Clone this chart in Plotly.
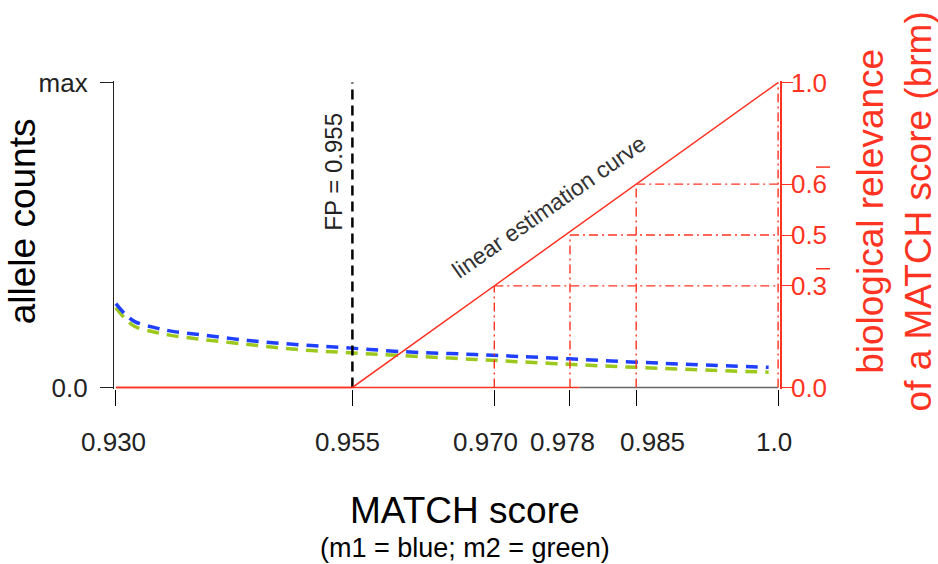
import plotly.graph_objects as go

# ---------------- data ----------------
FP = 0.955
match_x = [0.930, 0.931, 0.932, 0.934, 0.936, 0.939, 0.944, 0.949, 0.954, 0.960, 0.968, 0.976, 0.985, 0.999]
m1_blue = [0.275, 0.240, 0.216, 0.197, 0.184, 0.173, 0.154, 0.141, 0.131, 0.118, 0.108, 0.097, 0.083, 0.066]
m2_green = [0.262, 0.225, 0.200, 0.182, 0.170, 0.158, 0.141, 0.125, 0.115, 0.105, 0.092, 0.079, 0.066, 0.050]

brm_x = [0.930, 0.955, 1.0]          # linear estimation curve
brm_y = [0.0, 0.0, 1.0]

baseline_red_x = [0.930, 0.979]
baseline_gray_x = [0.979, 1.0]
baseline_y = [0.0, 0.0]

ref_scores = [0.970, 0.978, 0.985, 1.0]
ref_brm = [1/3, 0.5, 2/3, 1.0]

x_ticks = [0.930, 0.955, 0.970, 0.978, 0.985, 1.0]
x_ticklabels = ["0.930", "0.955", "0.970", "0.978", "0.985", "1.0"]
x_label_nudge = [-2, -5, -9, -7, 16, -4]      # px offsets of the labels as placed in the original
left_ticks = [0.0, 1.0]
left_ticklabels = ["0.0", "max"]
right_ticks = [0.0, 1/3, 0.5, 2/3, 1.0]
right_ticklabels = ["0.0", "0.3", "0.5", "0.6", "1.0"]
repeating_ticks = [1/3, 2/3]      # labels drawn with a repeating-decimal bar

RED = "#ff3322"
BLUE = "#2040ff"
GREEN = "#9dc81e"
FONT = "Liberation Sans, Arial, Helvetica, sans-serif"

fig = go.Figure()

# dash-dot guide lines (vertical and horizontal) for reference brm values
for sx, by in zip(ref_scores, ref_brm):
    fig.add_trace(go.Scatter(x=[sx, sx], y=[0, by], mode="lines", yaxis="y2",
                             line=dict(color=RED, width=1.4, dash="9px,4px,2px,4px"),
                             showlegend=False, hoverinfo="skip"))
    fig.add_trace(go.Scatter(x=[sx, 1.0], y=[by, by], mode="lines", yaxis="y2",
                             line=dict(color=RED, width=1.4, dash="9px,4px,2px,4px"),
                             showlegend=False, hoverinfo="skip"))

# allele count curves
fig.add_trace(go.Scatter(x=match_x, y=m2_green, mode="lines", line=dict(color=GREEN, width=3.5, dash="12px,8px"),
                         line_shape="spline", showlegend=False, name="m2"))
fig.add_trace(go.Scatter(x=match_x, y=m1_blue, mode="lines", line=dict(color=BLUE, width=3.5, dash="12px,8px"),
                         line_shape="spline", showlegend=False, name="m1"))

# baseline
fig.add_trace(go.Scatter(x=baseline_red_x, y=baseline_y, mode="lines", line=dict(color=RED, width=1.5),
                         showlegend=False, hoverinfo="skip"))
fig.add_trace(go.Scatter(x=baseline_gray_x, y=baseline_y, mode="lines", line=dict(color="#666666", width=1.5),
                         showlegend=False, hoverinfo="skip"))

# linear estimation curve
fig.add_trace(go.Scatter(x=brm_x, y=brm_y, mode="lines", yaxis="y2", line=dict(color=RED, width=1.5),
                         showlegend=False, name="brm"))

# FP threshold line
fig.add_trace(go.Scatter(x=[FP, FP], y=[0, 1], mode="lines", line=dict(color="black", width=2.5, dash="10px,6px"),
                         showlegend=False, hoverinfo="skip"))

fig.update_layout(
    width=938, height=564,
    margin=dict(l=114, r=158, t=81, b=175),
    paper_bgcolor="white", plot_bgcolor="white",
    font=dict(family=FONT, size=26, color="black"),
    xaxis=dict(range=[0.9298, 1.0002], showgrid=False, zeroline=False, showline=False,
               tickmode="array", tickvals=x_ticks, showticklabels=False,
               ticks="outside", ticklen=16, tickwidth=1.3, tickcolor="black"),
    yaxis=dict(range=[-0.005, 1.005], showgrid=False, zeroline=False, showline=True,
               linecolor="#222222", linewidth=1.3,
               tickmode="array", tickvals=left_ticks, ticktext=left_ticklabels,
               ticks="outside", ticklen=13, tickwidth=1.3, tickcolor="#222222",
               tickfont=dict(size=26, color="#222222"), ticklabelstandoff=7),
    yaxis2=dict(range=[-0.005, 1.005], overlaying="y", side="right", showgrid=False, zeroline=False,
                showline=True, linecolor=RED, linewidth=1.5,
                tickmode="array", tickvals=right_ticks, ticktext=right_ticklabels,
                ticks="outside", ticklen=11, tickwidth=1.3, tickcolor=RED,
                tickfont=dict(size=26, color=RED), ticklabelstandoff=-7),
    showlegend=False,
)

# bars over the repeating digits of 0.3 and 0.6 labels
for tv in repeating_ticks:
    fig.add_shape(type="line", xref="paper", yref="y2", x0=1.0541, x1=1.0751,
                  y0=tv + 0.056, y1=tv + 0.056, line=dict(color=RED, width=1.5))

annotations = [
    dict(text="allele counts", xref="paper", yref="paper", x=-0.138, y=0.545, textangle=-90,
         showarrow=False, xanchor="center", yanchor="middle", font=dict(size=37, color="black")),
    dict(text="biological relevance<br>of a MATCH score (brm)", xref="paper", yref="paper", x=1.172, y=0.575,
         textangle=-90, showarrow=False, xanchor="center", yanchor="middle", font=dict(size=37, color=RED)),
    dict(text="MATCH score", xref="paper", yref="paper", x=0.527, y=-0.393, showarrow=False,
         xanchor="center", yanchor="middle", font=dict(size=37, color="black")),
    dict(text="(m1 = blue; m2 = green)", xref="paper", yref="paper", x=0.527, y=-0.516, showarrow=False,
         xanchor="center", yanchor="middle", font=dict(size=27, color="black")),
    dict(text="FP = 0.955", xref="x", yref="y", x=FP, y=0.709, xshift=-19, textangle=-90, showarrow=False,
         xanchor="center", yanchor="middle", font=dict(size=24, color="#222222")),
    dict(text="linear estimation curve", xref="x", yref="y", x=0.97575, y=0.5915, textangle=-35,
         showarrow=False, xanchor="center", yanchor="middle", font=dict(size=23, color="#333333")),
]
# x-axis tick labels, anchored at their tick values
for tv, tl, nudge in zip(x_ticks, x_ticklabels, x_label_nudge):
    annotations.append(dict(text=tl, xref="x", yref="paper", x=tv, y=-0.172, xshift=nudge, showarrow=False,
                            xanchor="center", yanchor="middle", font=dict(size=26, color="#222222")))
fig.update_layout(annotations=annotations)

fig.write_html("out.html", config={"displayModeBar": False},
               post_script="document.body.style.margin='0px';document.body.style.overflow='hidden';")
